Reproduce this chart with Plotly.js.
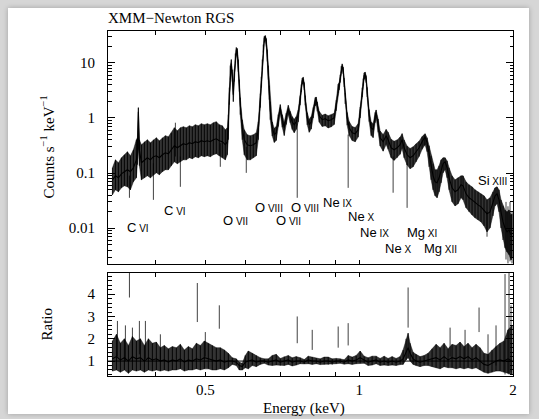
<!DOCTYPE html>
<html>
<head>
<meta charset="utf-8">
<script src="https://cdn.plot.ly/plotly-3.0.1.min.js"></script>
<style>
  html, body { margin: 0; padding: 0; width: 539px; height: 419px; overflow: hidden; background: #d6d6d6; }
  #card { position: absolute; left: 8px; top: 8px; width: 521px; height: 406px; background: #fff;
          box-shadow: 0 0 5px rgba(0,0,0,0.25); }
  #plot { position: absolute; left: 0; top: 0; width: 539px; height: 419px; }
</style>
</head>
<body>
<div id="card"></div>
<div id="plot"></div>
<script>
// RGS spectrum: energy (keV), count rate (counts/s/keV) with lower/upper envelope
const energyKeV = [0.3290,0.3335,0.3380,0.3426,0.3472,0.3520,0.3568,0.3616,0.3665,0.3682,0.3698,0.3715,0.3749,0.3800,0.3851,0.3904,0.3957,0.4010,0.4065,0.4120,0.4176,0.4233,0.4290,0.4349,0.4408,0.4468,0.4529,0.4590,0.4653,0.4716,0.4780,0.4845,0.4911,0.4978,0.5045,0.5114,0.5184,0.5254,0.5325,0.5398,0.5471,0.5521,0.5546,0.5571,0.5596,0.5621,0.5646,0.5672,0.5697,0.5723,0.5749,0.5775,0.5801,0.5827,0.5853,0.5906,0.5959,0.6040,0.6123,0.6206,0.6290,0.6347,0.6405,0.6434,0.6462,0.6492,0.6521,0.6550,0.6580,0.6609,0.6639,0.6669,0.6699,0.6760,0.6821,0.6883,0.6945,0.7008,0.7071,0.7135,0.7199,0.7265,0.7330,0.7396,0.7463,0.7531,0.7599,0.7668,0.7703,0.7738,0.7773,0.7808,0.7843,0.7914,0.7985,0.8057,0.8130,0.8204,0.8241,0.8278,0.8353,0.8466,0.8581,0.8698,0.8816,0.8936,0.9017,0.9098,0.9139,0.9180,0.9222,0.9263,0.9305,0.9347,0.9389,0.9474,0.9560,0.9690,0.9822,0.9955,1.0045,1.0136,1.0182,1.0228,1.0274,1.0320,1.0367,1.0460,1.0555,1.0650,1.0747,1.0795,1.0893,1.0991,1.1141,1.1292,1.1394,1.1549,1.1706,1.1865,1.2026,1.2135,1.2245,1.2411,1.2580,1.2751,1.2924,1.3100,1.3279,1.3399,1.3460,1.3581,1.3704,1.3828,1.3953,1.4079,1.4206,1.4335,1.4464,1.4595,1.4727,1.4860,1.4995,1.5198,1.5405,1.5614,1.5826,1.5970,1.6187,1.6407,1.6630,1.6856,1.7085,1.7317,1.7553,1.7791,1.8033,1.8278,1.8444,1.8611,1.8779,1.8949,1.9121,1.9294,1.9469,1.9645,1.9823,1.9913];
const rate = [0.0755,0.0893,0.0821,0.0971,0.106,0.115,0.106,0.125,0.174,0.265,1.30,0.265,0.154,0.174,0.190,0.174,0.198,0.206,0.190,0.215,0.234,0.224,0.265,0.314,0.288,0.314,0.341,0.327,0.356,0.341,0.371,0.356,0.387,0.371,0.387,0.371,0.403,0.420,0.387,0.371,0.327,0.371,0.755,2.65,6.9,9.7,6.1,2.65,6.1,12.5,17.4,16.0,9.3,4.03,1.74,0.666,0.403,0.327,0.314,0.327,0.356,0.613,2.15,4.57,9.7,19.0,27.7,30.1,24.4,14.2,6.9,3.01,1.42,0.666,0.497,0.540,0.931,1.54,0.931,0.666,1.01,1.48,1.10,0.856,0.755,0.856,1.15,2.15,3.56,4.77,4.97,3.87,2.15,1.01,0.755,0.856,1.30,2.06,2.15,1.67,1.10,0.931,0.971,0.893,0.931,1.01,1.74,3.56,3.87,5.4,7.9,8.9,7.55,4.57,2.34,1.01,0.666,0.540,0.518,0.613,1.30,3.01,4.57,5.9,6.1,5.2,3.01,1.15,0.666,0.613,1.06,1.25,0.755,0.438,0.371,0.477,0.403,0.288,0.265,0.288,0.327,0.403,0.288,0.215,0.190,0.206,0.244,0.288,0.371,0.420,0.457,0.356,0.215,0.130,0.0893,0.0695,0.0666,0.0821,0.115,0.148,0.160,0.125,0.0821,0.0540,0.0457,0.0497,0.0613,0.0588,0.0420,0.0356,0.0327,0.0288,0.0265,0.0244,0.0215,0.0182,0.0198,0.0288,0.0387,0.0420,0.0327,0.0198,0.0130,0.0101,0.0086,0.0093,0.0076,0.0082];
const rateLo = [0.0403,0.0497,0.0457,0.0540,0.0588,0.0564,0.0497,0.0695,0.0821,0.142,0.265,0.136,0.0755,0.0821,0.0893,0.0821,0.0931,0.101,0.0931,0.106,0.115,0.115,0.136,0.160,0.148,0.160,0.174,0.174,0.190,0.182,0.198,0.190,0.206,0.198,0.206,0.198,0.215,0.224,0.206,0.190,0.174,0.215,0.403,1.74,4.97,7.55,4.57,1.98,4.57,10.1,14.2,12.5,6.9,3.01,1.15,0.403,0.215,0.174,0.174,0.190,0.206,0.403,1.54,3.56,7.55,15.4,23.4,25.4,19.8,10.6,4.97,2.15,0.931,
  0.47,0.36,0.39,0.70,1.20,0.68,0.48,0.76,1.15,0.82,0.62,0.54,0.62,0.85,1.70,2.95,4.10,4.25,3.20,1.70,0.75,0.55,0.63,1.00,1.65,1.75,1.32,0.84,0.70,0.72,0.66,0.69,0.76,1.35,2.85,3.20,4.40,6.6,7.8,6.3,3.65,1.80,0.74,0.48,0.39,0.37,0.45,1.00,2.40,3.85,5.0,5.3,4.35,2.40,0.86,0.48,0.44,0.82,1.00,0.55,0.31,0.25,0.33,0.27,0.19,0.17,0.19,0.22,0.28,0.19,0.14,0.12,0.13,0.16,0.20,0.27,
  0.314,0.327,0.244,0.130,0.0755,0.0497,0.0387,0.0356,0.0457,0.0666,0.101,0.115,0.0821,0.0497,0.0301,0.0254,0.0277,0.0356,0.0327,0.0234,0.0198,0.0174,0.0154,0.0142,0.0130,0.0110,0.0086,0.0101,0.0167,0.0254,0.0277,0.0198,0.0101,0.0061,0.0044,0.0037,0.0033,0.00265,0.0029];
const rateHi = [0.125,0.174,0.154,0.190,0.215,0.244,0.206,0.265,0.403,0.438,1.54,0.403,0.327,0.371,0.403,0.356,0.403,0.438,0.387,0.438,0.477,0.457,0.540,0.666,0.588,0.666,0.695,0.666,0.724,0.695,0.755,0.724,0.788,0.755,0.788,0.755,0.821,0.856,0.755,0.724,0.613,0.666,1.15,3.56,8.9,11.5,7.55,3.56,7.55,14.8,19.0,18.2,11.5,4.97,2.34,0.931,0.613,0.497,0.477,0.497,0.540,0.856,2.77,5.6,11.5,21.5,30.1,31.4,27.7,17.4,8.9,3.87,1.98,
  0.85,0.65,0.70,1.15,1.75,1.15,0.85,1.22,1.70,1.32,1.06,0.95,1.06,1.40,2.55,4.05,5.30,5.50,4.40,2.55,1.25,0.95,1.06,1.55,2.35,2.40,1.95,1.32,1.12,1.18,1.10,1.14,1.22,2.10,4.10,4.40,6.10,8.7,9.6,8.4,5.30,2.85,1.26,0.86,0.70,0.67,0.79,1.58,3.55,5.20,6.6,6.8,5.9,3.60,1.42,0.85,0.79,1.26,1.40,0.96,0.58,0.50,0.62,0.55,0.41,0.38,0.40,0.45,0.52,0.40,0.31,0.28,0.30,0.34,0.38,0.46,
  0.497,0.518,0.438,0.314,0.206,0.148,0.115,0.115,0.136,0.174,0.190,0.190,0.167,0.125,0.0893,0.0755,0.0821,0.0893,0.0893,0.0695,0.0613,0.0564,0.0497,0.0457,0.0420,0.0387,0.0327,0.0356,0.0457,0.0540,0.0564,0.0497,0.0327,0.0254,0.0215,0.0198,0.0215,0.0174,0.0182];

// isolated channels whose error bars stand out of the band
const outlierE  = [0.3552,0.3957,0.4369,0.4468,0.5349,0.6013,0.7565,0.9517,1.1653,1.2411,1.7791,1.9380,1.9553,1.9733,1.9913];
const outlierLo = [0.0356,0.0327,0.200,0.0564,0.130,0.101,0.0356,0.054,0.044,0.0234,0.0070,0.0027,0.0023,0.0025,0.0023];
const outlierHi = [0.090,0.150,0.821,0.200,0.350,0.300,0.800,0.500,0.200,0.150,0.020,0.030,0.025,0.030,0.020];

// data / model ratio
const ratioE = [0.3290,0.3350,0.3410,0.3472,0.3536,0.3600,0.3665,0.3732,0.3800,0.3869,0.3939,0.4010,0.4083,0.4157,0.4233,0.4310,0.4388,0.4468,0.4549,0.4632,0.4716,0.4802,0.4889,0.4978,0.5068,0.5160,0.5254,0.5349,0.5447,0.5546,0.5646,0.5749,0.5827,0.5906,0.5986,0.6068,0.6178,0.6290,0.6405,0.6521,0.6639,0.6760,0.6883,0.7008,0.7135,0.7265,0.7396,0.7531,0.7668,0.7808,0.7949,0.8094,0.8241,0.8390,0.8543,0.8698,0.8856,0.9017,0.9180,0.9347,0.9517,0.9690,0.9866,1.0045,1.0228,1.0413,1.0602,1.0795,1.0991,1.1191,1.1394,1.1601,1.1812,1.2026,1.2190,1.2355,1.2467,1.2580,1.2751,1.2924,1.3159,1.3399,1.3642,1.3890,1.4142,1.4399,1.4661,1.4927,1.5198,1.5475,1.5756,1.6042,1.6333,1.6630,1.6932,1.7240,1.7553,1.7871,1.8196,1.8527,1.8864,1.9207,1.9553,1.9913];
const ratio = [1.1,1.2,1.05,1.15,1.0,1.2,1.1,1.15,1.0,1.15,1.05,1.1,1.0,1.05,0.95,1.05,1.0,1.1,0.95,1.05,1.0,1.1,1.05,1.15,1.1,1.05,1.0,1.05,0.95,1.0,1.0,0.95,0.8,0.75,0.95,1.0,1.05,0.95,1.0,1.0,0.95,1.0,1.05,0.95,1.0,1.05,0.95,1.0,1.0,0.95,1.05,1.0,1.0,0.95,1.0,1.0,0.95,1.0,1.0,0.95,1.05,1.0,1.05,1.15,1.05,0.95,1.0,1.05,0.95,1.0,0.95,1.0,0.95,1.0,1.1,1.45,1.6,1.35,1.1,1.0,0.95,1.0,1.05,1.1,1.15,1.05,1.2,1.05,1.15,1.1,1.2,1.1,1.2,1.05,1.15,1.0,0.85,0.8,0.9,1.0,1.05,1.0,1.1,1.0];
const ratioLo = [0.55,0.6,0.5,0.6,0.45,0.6,0.55,0.6,0.5,0.6,0.55,0.6,0.55,0.6,0.55,0.6,0.6,0.65,0.55,0.6,0.6,0.65,0.6,0.65,0.65,0.6,0.6,0.65,0.6,0.7,0.85,0.8,0.6,0.6,0.7,0.65,
  0.8,0.75,0.85,0.9,0.82,0.8,0.82,0.8,0.8,0.85,0.78,0.82,0.88,0.87,0.88,0.85,0.88,0.84,0.85,0.84,0.84,0.88,0.9,0.86,0.88,0.85,0.88,0.9,0.9,0.8,0.82,0.88,0.8,0.82,0.8,0.82,0.8,0.84,
  0.85,1.05,1.15,1.0,0.85,0.8,0.75,0.8,0.8,0.75,0.7,0.65,0.75,0.7,0.7,0.65,0.7,0.65,0.7,0.65,0.7,0.6,0.5,0.45,0.5,0.55,0.55,0.5,0.45,0.4];
const ratioHi = [1.9,2.2,1.8,2.0,1.7,2.1,1.9,2.0,1.7,2.0,1.8,1.85,1.6,1.7,1.55,1.65,1.6,1.75,1.5,1.65,1.55,1.8,1.7,1.9,1.8,1.7,1.6,1.6,1.5,1.35,1.15,1.1,0.95,0.9,1.25,1.45,
  1.35,1.25,1.15,1.1,1.1,1.25,1.3,1.12,1.2,1.25,1.15,1.2,1.15,1.07,1.22,1.18,1.12,1.1,1.18,1.18,1.1,1.12,1.1,1.06,1.25,1.18,1.25,1.45,1.22,1.15,1.22,1.22,1.12,1.22,1.12,1.2,1.12,1.2,
  1.5,2.0,2.25,1.8,1.4,1.3,1.2,1.25,1.35,1.55,1.75,1.6,1.8,1.55,1.75,1.7,1.85,1.65,1.8,1.6,1.75,1.6,1.35,1.3,1.5,1.65,1.8,1.9,2.4,2.6];

const ratioOutE  = [0.3365,0.3488,0.3552,0.3600,0.3715,0.3817,0.4083,0.4823,0.5000,0.5325,0.7565,0.8094,0.9098,0.9517,1.2467,1.5063,1.6114,1.7163,1.7871,1.8527,1.9294,1.9645,1.9823];
const ratioOutLo = [1.2,1.0,3.85,1.0,1.3,1.1,1.0,2.75,1.2,2.45,1.8,1.5,1.6,1.7,2.5,1.2,1.1,2.3,1.0,0.8,0.4,0.4,0.5];
const ratioOutHi = [2.8,2.6,5.0,2.5,2.8,2.8,2.2,4.5,2.3,3.5,3.0,2.4,2.55,2.7,4.3,2.5,2.4,3.4,2.2,2.6,4.9,5.0,3.5];

// line identifications
const ionElement = ['C','C','O','O','O','O','Ne','Ne','Ne','Ne','Mg','Mg','Si'];
const ionStage   = ['VI','VI','VII','VIII','VIII','VII','IX','X','IX','X','XI','XII','XIII'];

// tick labels
const energyTicks = [0.5, 1, 2];
const energyTickText = ['0.5', '1', '2'];
const rateTicks = [0.01, 0.1, 1, 10];
const rateTickText = ['0.01', '0.1', '1', '10'];
const ratioTicks = [1, 2, 3, 4];
const ratioTickText = ['1', '2', '3', '4'];

// ---------------------------------------------------------------------------
function segments(xs, lo, hi) {
  const x = [], y = [];
  xs.forEach((e, i) => { x.push(e, e, null); y.push(lo[i], hi[i], null); });
  return { x, y };
}
const up = (hi, mid) => hi.map((h, i) => h - mid[i]);
const dn = (mid, lo) => mid.map((m, i) => m - lo[i]);

const bandEdge = { color: 'rgba(0,0,0,0.6)', width: 0.7 };
const bandFill = 'rgba(0,0,0,0.8)';
const errStyle = { color: 'rgba(0,0,0,0.9)', thickness: 1, width: 0 };
const spikeLine = { color: 'rgba(0,0,0,0.75)', width: 1 };

const specOut = segments(outlierE, outlierLo, outlierHi);
const ratOut = segments(ratioOutE, ratioOutLo, ratioOutHi);

const traces = [
  // spectrum panel
  { x: energyKeV, y: rateLo, xaxis: 'x2', yaxis: 'y2', mode: 'lines', line: bandEdge, hoverinfo: 'skip' },
  { x: energyKeV, y: rateHi, xaxis: 'x2', yaxis: 'y2', mode: 'lines', line: bandEdge,
    fill: 'tonexty', fillcolor: bandFill, hoverinfo: 'skip' },
  { x: energyKeV, y: rate, xaxis: 'x2', yaxis: 'y2', mode: 'lines', line: { color: '#000', width: 1.1 },
    error_y: Object.assign({ type: 'data', symmetric: false, array: up(rateHi, rate), arrayminus: dn(rate, rateLo) }, errStyle) },
  { x: specOut.x, y: specOut.y, xaxis: 'x2', yaxis: 'y2', mode: 'lines', line: spikeLine, connectgaps: false, hoverinfo: 'skip' },
  // ratio panel
  { x: ratioE, y: ratioLo, xaxis: 'x', yaxis: 'y', mode: 'lines', line: bandEdge, hoverinfo: 'skip' },
  { x: ratioE, y: ratioHi, xaxis: 'x', yaxis: 'y', mode: 'lines', line: bandEdge,
    fill: 'tonexty', fillcolor: bandFill, hoverinfo: 'skip' },
  { x: ratioE, y: ratio, xaxis: 'x', yaxis: 'y', mode: 'lines', line: { color: '#000', width: 1.1 },
    error_y: Object.assign({ type: 'data', symmetric: false, array: up(ratioHi, ratio), arrayminus: dn(ratio, ratioLo) }, errStyle) },
  { x: ratOut.x, y: ratOut.y, xaxis: 'x', yaxis: 'y', mode: 'lines', line: spikeLine, connectgaps: false, hoverinfo: 'skip' }
];

const serif = '"Liberation Serif", "Times New Roman", Times, serif';
const sans = '"Liberation Sans", Arial, Helvetica, sans-serif';
const eRange = [Math.log10(0.3225), Math.log10(2.0)];

const frame = {
  showline: true, linecolor: '#000', linewidth: 1, mirror: 'allticks',
  ticks: 'inside', tickcolor: '#000', tickwidth: 1,
  showgrid: false, zeroline: false, tickfont: { family: serif, size: 15, color: '#000' }
};

// minor ticks of the count-rate axis: 2..9 in every decade
const rateMinor = [];
for (let k = -3; k <= 1; k++) for (let m = 2; m <= 9; m++) rateMinor.push(m * Math.pow(10, k));

const energyMinor = [0.4, 0.6, 0.7, 0.8, 0.9];

const topDom = [0.3246, 1];
const botDom = [0, 0.2986];

// line labels: [energy keV, count rate] of each label centre
const labelAt = [
  [0.3698, 0.0101], [0.4369, 0.0206], [0.5723, 0.01357], [0.6654, 0.0234], [0.7843, 0.0234],
  [0.7265, 0.01357], [0.9078, 0.0288], [1.009, 0.01605], [1.0698, 0.00821], [1.1919, 0.0042],
  [1.3279, 0.00821], [1.4399, 0.0042], [1.8237, 0.0724]
];
const lineLabels = ionElement.map((el, i) => ({
  xref: 'x2', yref: 'y2', x: Math.log10(labelAt[i][0]), y: Math.log10(labelAt[i][1]),
  text: el + '<span style="font-size:10px"> ' + ionStage[i] + '</span>',
  showarrow: false, xanchor: 'center', yanchor: 'middle',
  font: { family: sans, size: 13, color: '#000' }
}));

const axisTitles = [
  { xref: 'paper', yref: 'paper', x: -0.1506, y: (topDom[0] + topDom[1]) / 2, textangle: -90,
    text: 'Counts s<sup>\u22121</sup> keV<sup>\u22121</sup>', showarrow: false, xanchor: 'center', yanchor: 'middle',
    font: { family: serif, size: 15, color: '#000' } },
  { xref: 'paper', yref: 'paper', x: -0.1506, y: (botDom[0] + botDom[1]) / 2, textangle: -90,
    text: 'Ratio', showarrow: false, xanchor: 'center', yanchor: 'middle',
    font: { family: serif, size: 15, color: '#000' } },
  { xref: 'paper', yref: 'paper', x: 0.484, y: -0.0928,
    text: 'Energy (keV)', showarrow: false, xanchor: 'center', yanchor: 'middle',
    font: { family: serif, size: 15, color: '#000' } }
];

const layout = {
  width: 539, height: 419,
  paper_bgcolor: 'rgba(0,0,0,0)', plot_bgcolor: 'rgba(0,0,0,0)',
  margin: { l: 108, r: 26, t: 31, b: 43, pad: 0 },
  showlegend: false,
  font: { family: serif, size: 15, color: '#000' },
  title: { text: 'XMM\u2212Newton RGS', xref: 'paper', x: 0, xanchor: 'left',
           yref: 'container', y: 1 - 18 / 419, yanchor: 'middle', font: { family: serif, size: 15, color: '#000' } },
  xaxis: Object.assign({}, frame, {
    type: 'log', range: eRange, anchor: 'y', domain: [0, 1],
    tickmode: 'array', tickvals: energyTicks, ticktext: energyTickText, ticklen: 4, ticklabelstandoff: 0,
    minor: { tickmode: 'array', tickvals: energyMinor, ticks: 'inside', ticklen: 4, tickcolor: '#000', showgrid: false }
  }),
  xaxis2: Object.assign({}, frame, {
    type: 'log', range: eRange, anchor: 'y2', matches: 'x', domain: [0, 1], showticklabels: false,
    tickmode: 'array', tickvals: energyTicks, ticklen: 4,
    minor: { tickmode: 'array', tickvals: energyMinor, ticks: 'inside', ticklen: 4, tickcolor: '#000', showgrid: false }
  }),
  // longer decade tick at 1 keV
  xaxis3: { type: 'log', range: eRange, overlaying: 'x', anchor: 'y', matches: 'x', showline: false, showgrid: false,
    zeroline: false, tickmode: 'array', tickvals: [1], ticks: 'inside', ticklen: 7, tickcolor: '#000',
    mirror: 'allticks', showticklabels: false },
  xaxis4: { type: 'log', range: eRange, overlaying: 'x2', anchor: 'y2', matches: 'x', showline: false, showgrid: false,
    zeroline: false, tickmode: 'array', tickvals: [1], ticks: 'inside', ticklen: 7, tickcolor: '#000',
    mirror: 'allticks', showticklabels: false },
  yaxis: Object.assign({}, frame, {
    range: [0.33, 4.95], domain: botDom, anchor: 'x',
    tickmode: 'array', tickvals: ratioTicks, ticktext: ratioTickText, ticklen: 7, ticklabelstandoff: 9,
    minor: { dtick: 0.2, tick0: 0, ticks: 'inside', ticklen: 3.5, tickcolor: '#000', showgrid: false }
  }),
  yaxis2: Object.assign({}, frame, {
    type: 'log', range: [-2.65, 1.5786], domain: topDom, anchor: 'x2',
    tickmode: 'array', tickvals: rateTicks, ticktext: rateTickText, ticklen: 7, ticklabelstandoff: 9,
    minor: { tickmode: 'array', tickvals: rateMinor, ticks: 'inside', ticklen: 3.5, tickcolor: '#000', showgrid: false }
  }),
  shapes: [
    { type: 'line', xref: 'x domain', yref: 'y', x0: 0, x1: 1, y0: 1, y1: 1,
      line: { color: '#000', width: 1 }, layer: 'above' }
  ],
  annotations: lineLabels.concat(axisTitles)
};

Plotly.newPlot('plot', traces, layout, { staticPlot: true, displayModeBar: false });
</script>
</body>
</html>
